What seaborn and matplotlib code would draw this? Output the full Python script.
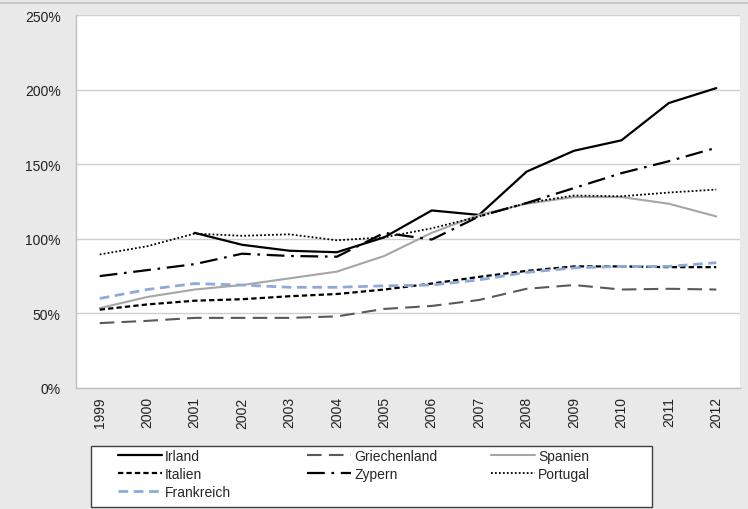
import matplotlib
matplotlib.use("Agg")
import numpy as np
import pandas as pd
import matplotlib.pyplot as plt
import seaborn as sns
from matplotlib.patches import Rectangle
from matplotlib.lines import Line2D

# Daten (in Prozent)
jahre = list(range(1999, 2013))
irland = [np.nan, np.nan, 104, 96, 92, 91, 101, 119, 116, 145, 159, 166, 191, 201]
griechenland = [43.5, 45, 47, 47, 47, 48, 53, 55, 59, 66.5, 69, 66, 66.5, 66]
spanien = [53.5, 61, 66, 69, 73.5, 78, 88.5, 104, 116, 123.5, 128, 128, 123.5, 115]
italien = [52.5, 56, 58.5, 59.5, 61.5, 63, 66, 70, 74.5, 78.5, 81.5, 81.5, 81, 81]
zypern = [75, 79, 83, 90, 88.5, 88, 104, 99.5, 115, 124, 134, 144, 152, 161]
portugal = [89.5, 95, 103.5, 102, 103, 99, 101, 107, 115, 124, 129, 128.5, 131, 133]
frankreich = [60, 66, 70, 69, 67.5, 67.5, 68.5, 69, 72.5, 77.5, 80.5, 81.5, 81.5, 84]

serien = {
    'Irland': irland,
    'Griechenland': griechenland,
    'Spanien': spanien,
    'Italien': italien,
    'Zypern': zypern,
    'Portugal': portugal,
    'Frankreich': frankreich,
}

# Linienstil je Land: Farbe, Breite, Strichmuster
stile = {
    'Irland': ('#000000', 1.6, '-'),
    'Griechenland': ('#595959', 1.5, (0, (7, 3.5))),
    'Spanien': ('#a6a6a6', 1.5, '-'),
    'Italien': ('#000000', 1.6, (0, (2.4, 1.4))),
    'Zypern': ('#000000', 1.6, (0, (8, 3, 1.2, 3))),
    'Portugal': ('#000000', 1.3, (0, (1, 1.2))),
    'Frankreich': ('#8eaadb', 2.0, (0, (3.5, 2))),
}

sns.set_style("white")
plt.rcParams['font.family'] = ['Liberation Sans', 'DejaVu Sans']

fig = plt.figure(figsize=(7.48, 5.10), dpi=100)
fig.patch.set_facecolor('#e9e9e9')
ax = fig.add_axes([76 / 748, 1 - 389 / 510, (740 - 76) / 748, (389 - 16) / 510])
ax.set_facecolor('white')

for land, werte in serien.items():
    farbe, breite, muster = stile[land]
    df = pd.DataFrame({'jahr': jahre, 'wert': werte})
    sns.lineplot(data=df, x='jahr', y='wert', ax=ax, color=farbe, lw=breite,
                 ls=muster, label=land, legend=False)

ax.set_xlim(1998.5, 2012.5)
ax.set_ylim(0, 250)
ax.set_yticks([0, 50, 100, 150, 200, 250])
ax.set_yticklabels([f'{v}%' for v in [0, 50, 100, 150, 200, 250]], fontsize=10, color='#222222')
ax.set_xticks(jahre)
ax.set_xticklabels([str(j) for j in jahre], rotation=90, fontsize=10, color='#222222')
ax.set_xticks(np.arange(1998.5, 2013, 1), minor=True)
ax.tick_params(axis='x', which='major', length=0, pad=6)
ax.tick_params(axis='x', which='minor', length=4, color='#bfbfbf', width=1, direction='out')
ax.tick_params(axis='y', length=5, color='#bfbfbf', width=1, direction='out', pad=6)
ax.set_xlabel('')
ax.set_ylabel('')

ax.grid(axis='y', color='#d0d0d0', lw=1)
ax.set_axisbelow(True)
for s in ['top', 'right']:
    ax.spines[s].set_visible(False)
for s in ['left', 'bottom']:
    ax.spines[s].set_color('#bfbfbf')
    ax.spines[s].set_linewidth(1)

# Legende: Kasten + drei Spalten, zeilenweise wie im Original
fig.add_artist(Rectangle((91 / 748, 1 - 508 / 510), (652 - 91) / 748, 61 / 510,
                         transform=fig.transFigure, facecolor='white',
                         edgecolor='#404040', lw=1, zorder=2))
h, l = ax.get_legend_handles_labels()
d = dict(zip(l, h))
spalten = [(['Irland', 'Italien', 'Frankreich'], 118),
           (['Griechenland', 'Zypern'], 307),
           (['Spanien', 'Portugal'], 491)]
for namen, xpos in spalten:
    leg = fig.legend([d[n] for n in namen], namen, ncol=1, loc='upper left',
                     bbox_to_anchor=(xpos / 748, 1 - 450 / 510), frameon=False,
                     fontsize=10, handlelength=3.2, handletextpad=0.2,
                     borderpad=0, borderaxespad=0, labelspacing=0.3)
    leg.set_zorder(3)

# Linie oben
fig.add_artist(Line2D([0, 1], [1 - 4 / 510, 1 - 4 / 510], transform=fig.transFigure,
                      color='#c8c8c8', lw=1.5))

fig.savefig('out.png', dpi=100, facecolor=fig.get_facecolor())
